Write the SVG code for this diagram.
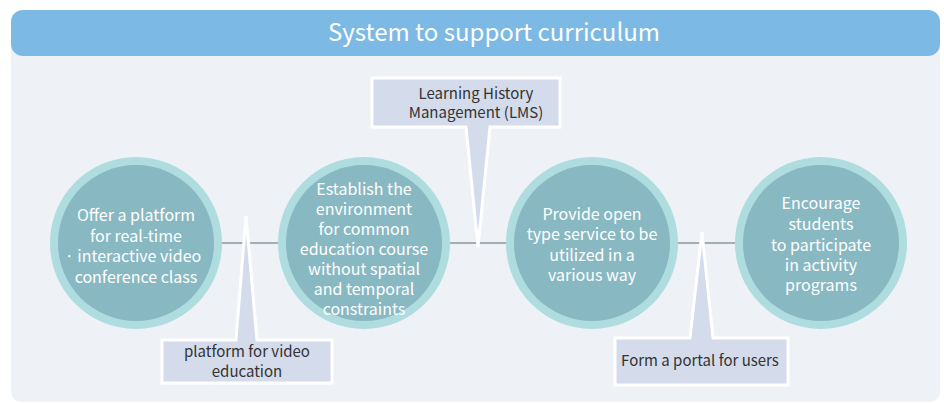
<svg xmlns="http://www.w3.org/2000/svg" width="944" height="403" viewBox="0 0 944 403">
<style>
.ring{fill:#aedcdf}
.core{fill:#88b8c2}
.ct{font-family:"Noto Sans CJK KR","Noto Sans",sans-serif;font-size:16px;fill:#ffffff;text-anchor:middle}
.call{fill:#d4dbeb;stroke:#ffffff;stroke-width:3;stroke-linejoin:miter}
.lt{font-family:"Noto Sans CJK KR","Noto Sans",sans-serif;font-size:15px;fill:#333333;text-anchor:middle}
.conn{stroke:#8a979c;stroke-width:1.3}
</style>
<rect x="11" y="10" width="929" height="392" rx="10" fill="#eef2f6"/>
<g id="header">
<rect x="11" y="10" width="929" height="46" rx="12" fill="#7cb9e4"/>
<text x="494" y="41" font-family="'Noto Sans CJK KR','Noto Sans',sans-serif" font-size="24" fill="#ffffff" text-anchor="middle">System to support curriculum</text>
</g>
<g id="connectors">
<line class="conn" x1="215" y1="243" x2="285" y2="243"/>
<line class="conn" x1="443" y1="243" x2="513" y2="243"/>
<line class="conn" x1="671" y1="243" x2="742" y2="243"/>
</g>
<g id="node1">
<circle class="ring" cx="136" cy="243" r="86"/>
<circle class="core" cx="136" cy="243" r="78"/>
<text class="ct"><tspan x="136" y="221">Offer a platform</tspan><tspan x="136" y="242">for real-time</tspan><tspan x="133" y="262">· interactive video</tspan><tspan x="136" y="283">conference class</tspan></text>
</g>
<g id="node2">
<circle class="ring" cx="364" cy="243" r="86"/>
<circle class="core" cx="364" cy="243" r="78"/>
<text class="ct"><tspan x="364" y="195">Establish the</tspan><tspan x="364" y="215">environment</tspan><tspan x="364" y="235">for common</tspan><tspan x="364" y="255">education course</tspan><tspan x="364" y="275">without spatial</tspan><tspan x="364" y="295">and temporal</tspan><tspan x="364" y="315">constraints</tspan></text>
</g>
<g id="node3">
<circle class="ring" cx="592" cy="243" r="86"/>
<circle class="core" cx="592" cy="243" r="78"/>
<text class="ct"><tspan x="592" y="220">Provide open</tspan><tspan x="592" y="240">type service to be</tspan><tspan x="592" y="261">utilized in a</tspan><tspan x="592" y="281">various way</tspan></text>
</g>
<g id="node4">
<circle class="ring" cx="821" cy="243" r="86"/>
<circle class="core" cx="821" cy="243" r="78"/>
<text class="ct"><tspan x="821" y="209">Encourage</tspan><tspan x="821" y="230">students</tspan><tspan x="821" y="251">to participate</tspan><tspan x="821" y="271">in activity</tspan><tspan x="821" y="291">programs</tspan></text>
</g>
<g id="callout-video">
<path class="call" d="M162,340 L236,340 L246,216 L257,340 L332,340 L332,383 L162,383 Z"/>
<text class="lt"><tspan x="247" y="357">platform for video</tspan><tspan x="247" y="377">education</tspan></text>
</g>
<g id="callout-lms">
<path class="call" d="M372,78 L560,78 L560,127 L490,127 L478,247 L466,127 L372,127 Z"/>
<text class="lt"><tspan x="476" y="99">Learning History</tspan><tspan x="476" y="118">Management (LMS)</tspan></text>
</g>
<g id="callout-portal">
<path class="call" d="M615,338 L690,338 L702,232 L713,338 L788,338 L788,385 L615,385 Z"/>
<text class="lt"><tspan x="700" y="366">Form a portal for users</tspan></text>
</g>
</svg>
